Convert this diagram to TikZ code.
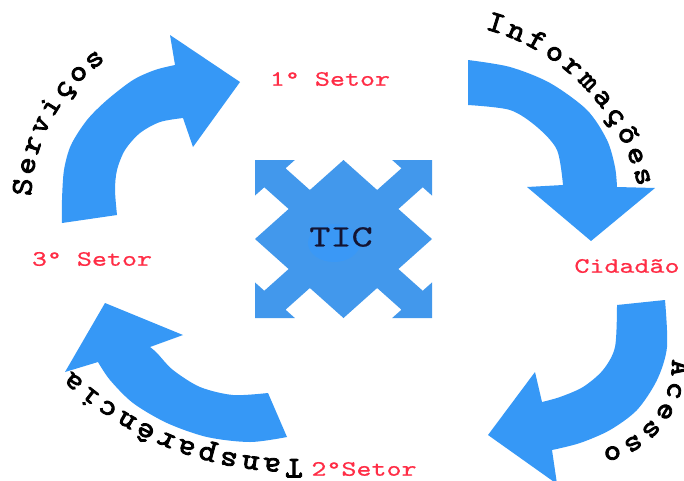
\documentclass[tikz,border=0pt]{standalone}
\usepackage{fontspec}
\usetikzlibrary{calc}
\newfontfamily\arcfont{lmmono10-regular.otf}[FakeBold=2.8,FakeStretch=1.1]
\newfontfamily\labfont{lmmono10-regular.otf}[FakeBold=0.6,FakeStretch=1.3]
\definecolor{arrowblue}{RGB}{54,152,246}
\definecolor{ticblue}{RGB}{66,152,236}
\definecolor{ticglow}{RGB}{58,152,246}
\definecolor{labelred}{RGB}{255,45,70}
\definecolor{ticink}{RGB}{20,20,50}
\tikzset{
  bigarrow/.style={fill=arrowblue},
  sector/.style={text=labelred, font=\labfont\fontsize{22}{22}\selectfont, inner sep=0pt},
  ticlabel/.style={text=ticink, font=\labfont\fontsize{31}{31}\selectfont, inner sep=0pt},
  curveletter/.style={font=\arcfont\fontsize{30}{30}\selectfont, inner sep=0pt, anchor=base},
}
% #1 name, #2 centre, #3 baseline radius, #4 start angle, #5 step, #6 letters
\newcommand\arcword[6]{%
  \foreach \ch [count=\i] in {#6} {%
    \pgfmathsetmacro\ang{#4+(\i-1)*#5}%
    \pgfmathsetmacro\rot{-\ang-90}%
    \node[curveletter, rotate=\rot] (#1-\i) at ($(#2)+(\ang:#3)$) {\ch};
  }%
}
\begin{document}
\begin{tikzpicture}[x=1pt,y=-1pt]
\useasboundingbox (0,0) rectangle (684,480);
\fill[white] (0,0) rectangle (684,480);
\clip (0,0) rectangle (684,480);

% arrow 1 (top left)
\fill[bigarrow] plot[smooth] coordinates {(62,223) (62,200) (64,170) (71,145) (87,120) (107,100) (133,80) (155,70) (175,65)}
  -- (170,35) -- (240,82) -- (193,147)
  -- plot[smooth] coordinates {(183,118) (160,122) (140,133) (125,150) (117,170) (115,190) (117,215)} -- cycle;

% arrow 2 (top right)
\fill[bigarrow] plot[smooth] coordinates {(468,60) (510,67) (550,83) (587,110) (607,140) (615,167) (617,187)}
  -- (655,188) -- (591,241) -- (527,187)
  -- plot[smooth] coordinates {(563,185) (557,150) (537,127) (510,110) (468,105)} -- cycle;

% arrow 3 (bottom right)
\fill[bigarrow] plot[smooth] coordinates {(665,300) (667,347) (657,380) (637,410) (610,430) (580,443) (552,450)}
  -- (557,484) -- (488,435) -- (535,372)
  -- plot[smooth] coordinates {(542,402) (560,397) (583,387) (603,370) (615,347) (617,305)} -- cycle;

% arrow 4 (bottom left)
\fill[bigarrow] plot[smooth] coordinates {(287,437) (250,442) (207,437) (167,423) (133,403) (110,380) (98,362)}
  -- (65,372) -- (105,303) -- (183,335)
  -- plot[smooth] coordinates {(150,347) (157,353) (173,370) (200,387) (233,395) (268,393)} -- cycle;

% central TIC shape
\begin{scope}[shift={(343.5,239)}, xscale=88.5, yscale=79]
\fill[ticblue] (0,1) -- (0.38,0.62) -- (0.655,0.895) -- (0.55,1) -- (1,1) -- (1,0.55) -- (0.895,0.655) -- (0.62,0.38) -- (1,0)
  -- (0.62,-0.38) -- (0.895,-0.655) -- (1,-0.55) -- (1,-1) -- (0.55,-1) -- (0.655,-0.895) -- (0.38,-0.62) -- (0,-1)
  -- (-0.38,-0.62) -- (-0.655,-0.895) -- (-0.55,-1) -- (-1,-1) -- (-1,-0.55) -- (-0.895,-0.655) -- (-0.62,-0.38) -- (-1,0)
  -- (-0.62,0.38) -- (-0.895,0.655) -- (-1,0.55) -- (-1,1) -- (-0.55,1) -- (-0.655,0.895) -- (-0.38,0.62) -- cycle;
\end{scope}
\fill[ticglow] (334,243) ellipse (26 and 19);
\node[ticlabel] (tic) at (341,237) {TIC};

% sector labels
\node[sector] (s1) at (330,79) {1° Setor};
\node[sector] (s3) at (92,259) {3° Setor};
\node[sector] (cid) at (627,266) {Cidadão};
\node[sector] (s2) at (364,469) {2°Setor};

% curved words
\coordinate (cserv) at (203,202);
\coordinate (cinfo) at (430,236);
\coordinate (cacc) at (584,363);
\coordinate (ctrans) at (294,134);
\arcword{serv}{cserv}{172}{-175.2}{6.84}{S,e,r,v,i,ç,o,s}
\arcword{info}{cinfo}{214}{-72.8}{5.72}{I,n,f,o,r,m,a,ç,õ,e,s}
\arcword{acc}{cacc}{88}{3}{13.9}{A,c,e,s,s,o}
\arcword{trans}{ctrans}{325}{90}{3.79}{T,a,n,s,p,a,r,ê,n,c,i,a}
\end{tikzpicture}
\end{document}
